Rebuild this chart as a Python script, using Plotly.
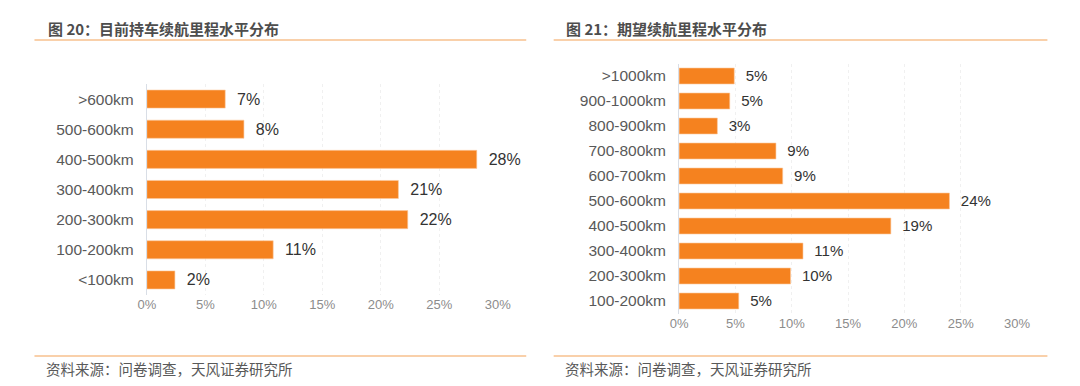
import plotly.graph_objects as go

W, H = 1080, 386

# Left chart: current vehicle range distribution
left_cats = [">600km", "500-600km", "400-500km", "300-400km", "200-300km", "100-200km", "<100km"]
left_vals = [6.7, 8.3, 28.2, 21.5, 22.3, 10.8, 2.4]
left_labels = ["7%", "8%", "28%", "21%", "22%", "11%", "2%"]

# Right chart: expected range distribution
right_cats = [">1000km", "900-1000km", "800-900km", "700-800km", "600-700km",
              "500-600km", "400-500km", "300-400km", "200-300km", "100-200km"]
right_vals = [4.9, 4.5, 3.4, 8.6, 9.2, 24.0, 18.8, 11.0, 9.9, 5.3]
right_labels = ["5%", "5%", "3%", "9%", "9%", "24%", "19%", "11%", "10%", "5%"]

x_ticks = [0, 5, 10, 15, 20, 25, 30]
x_ticktext = ["0%", "5%", "10%", "15%", "20%", "25%", "30%"]

titles = ["图 20：目前持车续航里程水平分布", "图 21：期望续航里程水平分布"]
source = "资料来源：问卷调查，天风证券研究所"

FONT = "Liberation Sans, Arial, Noto Sans CJK SC, sans-serif"
CJK = "Noto Sans CJK SC, Liberation Sans, sans-serif"
ORANGE = "#F5821F"
LINE = "#F7C08E"

fig = go.Figure()
fig.add_trace(go.Bar(
    x=left_vals, y=left_cats, orientation="h", marker_color=ORANGE,
    marker_line=dict(color="#FBC9A0", width=0.6),
    width=0.6, text=left_labels, texttemplate="  %{text}", textposition="outside",
    textfont=dict(size=16, color="#333333", family=FONT), cliponaxis=False,
    xaxis="x", yaxis="y", showlegend=False))
fig.add_trace(go.Bar(
    x=right_vals, y=right_cats, orientation="h", marker_color=ORANGE,
    marker_line=dict(color="#FBC9A0", width=0.6),
    width=0.64, text=right_labels, texttemplate="  %{text}", textposition="outside",
    textfont=dict(size=16, color="#333333", family=FONT), cliponaxis=False,
    xaxis="x2", yaxis="y2", showlegend=False))

def px(v):
    return v / W

def py(v):
    return 1 - v / H

xax = dict(range=[0, 30], tickvals=x_ticks, ticktext=x_ticktext, showgrid=True,
           gridcolor="#F0F0F0", gridwidth=1, griddash="dot", zeroline=False, showline=False,
           tickfont=dict(size=13, color="#8C8C8C", family=FONT), ticks="", fixedrange=True)
yax = dict(autorange="reversed", showline=True, linecolor="#D9DEE6", linewidth=1,
           tickfont=dict(size=15.5, color="#595959", family=FONT), ticks="",
           ticklabelstandoff=9, showgrid=False, fixedrange=True)

fig.update_layout(
    width=W, height=H, margin=dict(l=0, r=0, t=0, b=0),
    paper_bgcolor="white", plot_bgcolor="white", bargap=0.4,
    xaxis=dict(domain=[px(140.7), px(499)], anchor="y", **xax),
    yaxis=dict(domain=[py(295), py(84)], anchor="x", **yax),
    xaxis2=dict(domain=[px(684), px(1029)], anchor="y2", **xax),
    yaxis2=dict(domain=[py(313.5), py(63.5)], anchor="x2", **yax),
)

# Titles and source notes
for x0, t in [(38, titles[0]), (567, titles[1])]:
    fig.add_annotation(x=px(x0), y=py(28), xref="paper", yref="paper", text="<b>" + t + "</b>",
                       showarrow=False, xanchor="left", yanchor="middle",
                       font=dict(size=15, color="#4D4D4D", family=CJK))
for x0 in (36, 566):
    fig.add_annotation(x=px(x0), y=py(368), xref="paper", yref="paper", text=source,
                       showarrow=False, xanchor="left", yanchor="middle",
                       font=dict(size=14.5, color="#595959", family=CJK))

# Decorative rules
for x0, x1 in [(26, 528), (556, 1060)]:
    for yy in (40, 356):
        fig.add_shape(type="line", xref="paper", yref="paper", x0=px(x0), x1=px(x1),
                      y0=py(yy), y1=py(yy), line=dict(color=LINE, width=1.5))

fig.write_html(
    "out.html",
    config={"displayModeBar": False},
    post_script="document.body.style.margin='0';document.body.style.overflow='hidden';",
)
